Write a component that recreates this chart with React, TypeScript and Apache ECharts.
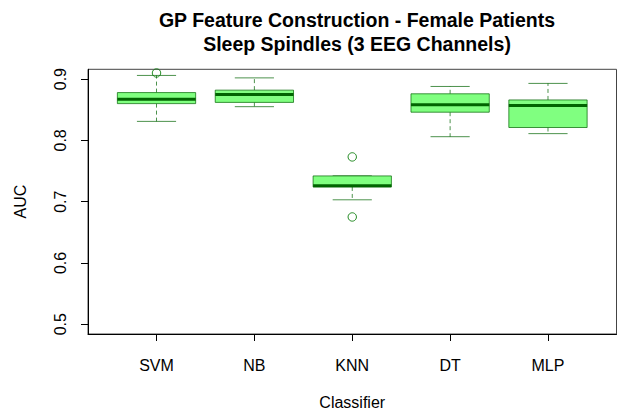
import React, { useEffect, useRef } from "react";
import * as echarts from "echarts";

const categories = ["SVM", "NB", "KNN", "DT", "MLP"];
const lowerWhisker = [0.831, 0.855, 0.703, 0.806, 0.811];
const q1 = [0.860, 0.862, 0.724, 0.846, 0.821];
const median = [0.867, 0.875, 0.726, 0.858, 0.857];
const q3 = [0.878, 0.882, 0.742, 0.876, 0.866];
const upperWhisker = [0.906, 0.902, 0.742, 0.888, 0.893];
const outlierClass = ["SVM", "KNN", "KNN"];
const outlierValue = [0.910, 0.773, 0.675];
const yTicks = [0.5, 0.6, 0.7, 0.8, 0.9];

const FONT = "'Liberation Sans', Arial, Helvetica, sans-serif";
const EDGE = "rgba(0,100,0,0.7)";

export default function App() {
  const ref = useRef<HTMLDivElement>(null);
  useEffect(() => {
    if (!ref.current) return;
    const chart = echarts.init(ref.current, null, { renderer: "svg" });
    const boxData = categories.map((_, i) => [
      i + 1,
      lowerWhisker[i],
      q1[i],
      median[i],
      q3[i],
      upperWhisker[i],
    ]);
    const outData = outlierClass.map((c, i) => [categories.indexOf(c) + 1, outlierValue[i]]);
    const xPositions = categories.map((_, i) => i + 1);

    chart.setOption({
      animation: false,
      textStyle: { fontFamily: FONT },
      title: {
        text: "GP Feature Construction - Female Patients\nSleep Spindles (3 EEG Channels)",
        left: 352,
        top: 3,
        textAlign: "center",
        textStyle: {
          fontFamily: FONT,
          fontSize: 19.5,
          fontWeight: "bold",
          color: "#000",
          lineHeight: 24,
        },
      },
      grid: {
        left: 88,
        right: 2.5,
        top: 69.3,
        bottom: 77.3,
        show: true,
        borderColor: "#444",
        borderWidth: 1,
        backgroundColor: "transparent",
      },
      xAxis: {
        type: "value",
        min: 0.3,
        max: 5.7,
        splitLine: { show: false },
        axisLine: { show: true, lineStyle: { color: "#000", width: 1 } },
        axisTick: {
          show: true,
          length: 7,
          customValues: xPositions,
          lineStyle: { color: "#000" },
        },
        axisLabel: {
          customValues: xPositions,
          formatter: (v: number) => categories[Math.round(v) - 1] ?? "",
          fontSize: 16,
          color: "#000",
          margin: 23,
          fontFamily: FONT,
        },
        name: "Classifier",
        nameLocation: "middle",
        nameGap: 60,
        nameTextStyle: { fontSize: 16, color: "#000", fontFamily: FONT },
      },
      yAxis: {
        type: "value",
        min: 0.484,
        max: 0.916,
        splitLine: { show: false },
        axisLine: { show: true, lineStyle: { color: "#000", width: 1 } },
        axisTick: {
          show: true,
          length: 7,
          customValues: yTicks,
          lineStyle: { color: "#000" },
        },
        axisLabel: {
          customValues: yTicks,
          formatter: (v: number) => v.toFixed(1),
          rotate: 90,
          fontSize: 16,
          color: "#000",
          margin: 20,
          fontFamily: FONT,
        },
        name: "AUC",
        nameLocation: "middle",
        nameGap: 60,
        nameRotate: 90,
        nameTextStyle: { fontSize: 16, color: "#000", fontFamily: FONT },
      },
      series: [
        {
          type: "custom",
          data: boxData,
          renderItem: (params: any, api: any) => {
            const x = api.value(0);
            const lo = api.coord([x, api.value(1)]);
            const b1 = api.coord([x, api.value(2)]);
            const md = api.coord([x, api.value(3)]);
            const b3 = api.coord([x, api.value(4)]);
            const hi = api.coord([x, api.value(5)]);
            const half = api.size([0.4, 0])[0];
            const capHalf = api.size([0.2, 0])[0];
            const cx = lo[0];
            const dash = { stroke: EDGE, lineWidth: 1, lineDash: [4, 3] };
            const solid = { stroke: EDGE, lineWidth: 1 };
            return {
              type: "group",
              children: [
                { type: "line", shape: { x1: cx, y1: b3[1], x2: cx, y2: hi[1] }, style: dash },
                { type: "line", shape: { x1: cx, y1: b1[1], x2: cx, y2: lo[1] }, style: dash },
                { type: "line", shape: { x1: cx - capHalf, y1: hi[1], x2: cx + capHalf, y2: hi[1] }, style: solid },
                { type: "line", shape: { x1: cx - capHalf, y1: lo[1], x2: cx + capHalf, y2: lo[1] }, style: solid },
                {
                  type: "rect",
                  shape: { x: cx - half, y: b3[1], width: 2 * half, height: b1[1] - b3[1] },
                  style: { fill: "#80ff80", stroke: EDGE, lineWidth: 1 },
                },
                {
                  type: "line",
                  shape: { x1: cx - half, y1: md[1], x2: cx + half, y2: md[1] },
                  style: { stroke: "#006400", lineWidth: 3 },
                },
              ],
            };
          },
          z: 2,
        },
        {
          type: "custom",
          data: outData,
          renderItem: (params: any, api: any) => {
            const p = api.coord([api.value(0), api.value(1)]);
            return {
              type: "circle",
              shape: { cx: p[0], cy: p[1], r: 4.2 },
              style: { fill: "none", stroke: "rgba(0,120,0,0.85)", lineWidth: 1 },
            };
          },
          z: 3,
        },
      ],
    });
    return () => chart.dispose();
  }, []);
  return (
    <div
      ref={ref}
      style={{ position: "absolute", left: 0, top: 0, width: 619, height: 415, background: "#fff" }}
    />
  );
}
